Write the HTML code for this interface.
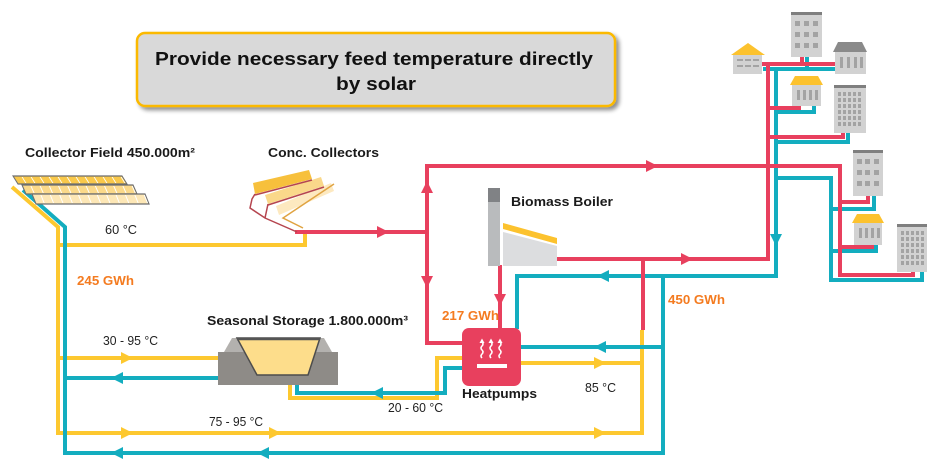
<!DOCTYPE html>
<html><head><meta charset="utf-8"><style>
html,body{margin:0;padding:0;background:#fff;}
svg{display:block;}
text{font-family:"Liberation Sans",Arial,sans-serif;}
.b{font-weight:bold;font-size:13px;fill:#1a1a1a;}
.n{font-size:13px;fill:#222;}
.o{font-weight:bold;font-size:13px;fill:#f47b20;}
.y{stroke:#fdc82f;stroke-width:4;fill:none;}
.t{stroke:#13adbf;stroke-width:4;fill:none;}
.r{stroke:#e8405e;stroke-width:4;fill:none;}
.win{fill:#a3a3a3;}
</style></head><body>
<svg width="943" height="471" viewBox="0 0 943 471" xmlns="http://www.w3.org/2000/svg">
<defs>
<filter id="sh" x="-5%" y="-10%" width="115%" height="130%"><feGaussianBlur in="SourceAlpha" stdDeviation="2"/><feOffset dx="3" dy="3"/><feComponentTransfer><feFuncA type="linear" slope="0.45"/></feComponentTransfer><feMerge><feMergeNode/><feMergeNode in="SourceGraphic"/></feMerge></filter>
</defs>

<!-- Title -->
<rect x="137" y="33" width="478" height="73" rx="8" fill="#d9d9d9" stroke="#fbb900" stroke-width="2.5" filter="url(#sh)"/>
<text x="155" y="65" font-size="18" font-weight="bold" fill="#111" textLength="438" lengthAdjust="spacingAndGlyphs">Provide necessary feed temperature directly</text>
<text x="376" y="90" font-size="18" font-weight="bold" fill="#111" text-anchor="middle" textLength="80" lengthAdjust="spacingAndGlyphs">by solar</text>

<!-- Yellow pipes -->
<path class="y" d="M12,187 L58,227 L58,433 L642,433 L642,330"/>
<path class="y" d="M58,245 L305,245 L305,230"/>
<path class="y" d="M58,358 L220,358"/>
<path class="y" d="M290,384 L290,398 L437,398 L437,358 L463,358"/>
<path class="y" d="M519,363 L642,363"/>

<!-- Teal pipes -->
<path class="t" d="M23,190 L65,227 L65,453 L663,453 L663,276"/>
<path class="t" d="M220,378 L65,378"/>
<path class="t" d="M463,368 L445,368 L445,393 L297,393 L297,384"/>
<path class="t" d="M663,347 L519,347"/>
<path class="t" d="M776,69 L776,276 L517,276 L517,329"/>
<path class="t" d="M763,69 L836,69"/>
<path class="t" d="M807,57 L807,69"/>
<path class="t" d="M776,112 L814,112 L814,105"/>
<path class="t" d="M776,142 L848,142 L848,132"/>
<path class="t" d="M776,178 L831,178 L831,280 L922,280 L922,271"/>
<path class="t" d="M831,209 L874,209 L874,195"/>
<path class="t" d="M831,251 L876,251 L876,244"/>

<!-- Red pipes -->
<path class="r" d="M295,232 L427,232"/>
<path class="r" d="M463,343 L427,343 L427,166 L840,166 L840,275 L913,275 L913,271"/>
<path class="r" d="M840,202 L868,202 L868,195"/>
<path class="r" d="M840,247 L872,247 L872,244"/>
<path class="r" d="M556,259 L768,259 L768,64"/>
<path class="r" d="M762,64 L836,64"/>
<path class="r" d="M802,57 L802,64"/>
<path class="r" d="M768,108 L799,108 L799,105"/>
<path class="r" d="M768,137 L843,137 L843,132"/>
<path class="r" d="M643,259 L643,330"/>
<path class="r" d="M500,265 L500,329"/>

<!-- Arrows -->
<g fill="#e8405e">
<polygon points="377,226 389,232 377,238"/>
<polygon points="421,193 427,181 433,193"/>
<polygon points="421,276 427,288 433,276"/>
<polygon points="646,160 658,166 646,172"/>
<polygon points="681,253 693,259 681,265"/>
<polygon points="494,294 500,306 506,294"/>
</g>
<g fill="#13adbf">
<polygon points="770,234 776,246 782,234"/>
<polygon points="609,270 597,276 609,282"/>
<polygon points="606,341 594,347 606,353"/>
<polygon points="123,372 111,378 123,384"/>
<polygon points="383,387 371,393 383,399"/>
<polygon points="123,447 111,453 123,459"/>
<polygon points="269,447 257,453 269,459"/>
</g>
<g fill="#fdc82f">
<polygon points="594,357 606,363 594,369"/>
<polygon points="121,352 133,358 121,364"/>
<polygon points="121,427 133,433 121,439"/>
<polygon points="269,427 281,433 269,439"/>
<polygon points="594,427 606,433 594,439"/>
</g>

<!-- Collector field -->
<g transform="translate(13,176) skewX(32)">
<rect x="0" y="0" width="109" height="8" fill="#f9c84a" stroke="#6d6e70" stroke-width="1.2"/>
<line x1="0" y1="4" x2="109" y2="4" stroke="#fff" stroke-width="6" stroke-dasharray="1 8" stroke-dashoffset="-8"/>
</g>
<g transform="translate(22,185) skewX(24)">
<rect x="0" y="0" width="111" height="9" fill="#fbd98a" stroke="#6d6e70" stroke-width="1.2"/>
<line x1="0" y1="4.5" x2="111" y2="4.5" stroke="#fff" stroke-width="7" stroke-dasharray="1 8.2" stroke-dashoffset="-8"/>
</g>
<g transform="translate(32,194) skewX(22)">
<rect x="0" y="0" width="113" height="10" fill="#fde7b6" stroke="#6d6e70" stroke-width="1.2"/>
<line x1="0" y1="5" x2="113" y2="5" stroke="#fff" stroke-width="8" stroke-dasharray="1 8.4" stroke-dashoffset="-8"/>
</g>

<!-- Concentrating collectors -->
<polygon points="253,183 309,170 312,179 255,194" fill="#f7c03c"/>
<polygon points="265,195 321,177 324,186 268,204" fill="#fad88a"/>
<polygon points="276,206 331,183 334,191 279,215" fill="#fde9c0"/>
<g stroke="#b5454f" stroke-width="1.5" fill="none">
<path d="M255,194 L252,199 L250,208 L265,218 L297,232"/>
<path d="M268,204 L265,218"/>
<path d="M255,195 L312,180"/>
<path d="M268,205 L324,187"/>
</g>
<g stroke="#e0a341" stroke-width="1.5" fill="none">
<path d="M334,184 L283,218 L303,228"/>
</g>

<!-- Storage -->
<polygon points="224,352 232,338 324,338 332,352" fill="#b3b1ae"/>
<rect x="218" y="352" width="120" height="33" fill="#8e8b87"/>
<polygon points="237,338 320,338 308,375 257,375" fill="#fddd8b" stroke="#4d4d4d" stroke-width="1.5"/>
<line x1="237" y1="339" x2="320" y2="339" stroke="#555" stroke-width="2.5"/>

<!-- Boiler -->
<rect x="488" y="188" width="12" height="78" fill="#b9bbbd"/>
<rect x="488" y="188" width="12" height="14" fill="#808285"/>
<polygon points="503,232 557,246 557,266 503,266" fill="#dcdddf"/>
<polygon points="503,223 557,238 557,244 503,229" fill="#fcc22e"/>

<!-- Heatpump -->
<rect x="462" y="328" width="59" height="58" rx="7" fill="#e8405e"/>
<g stroke="#fff" stroke-width="1.5" fill="none">
<path d="M482,358 q-2,-2 0,-4 q2,-2 0,-4 q-2,-2 0,-4 q2,-2 0,-4 L482,341"/>
<path d="M491,358 q-2,-2 0,-4 q2,-2 0,-4 q-2,-2 0,-4 q2,-2 0,-4 L491,341"/>
<path d="M500,358 q-2,-2 0,-4 q2,-2 0,-4 q-2,-2 0,-4 q2,-2 0,-4 L500,341"/>
</g>
<g fill="#fff">
<polygon points="479.5,343 482,338.5 484.5,343"/>
<polygon points="488.5,343 491,338.5 493.5,343"/>
<polygon points="497.5,343 500,338.5 502.5,343"/>
<rect x="477" y="364" width="30" height="4"/>
</g>

<!-- Buildings -->
<!-- house 1 -->
<polygon points="731,55 748,43 765,55" fill="#fcc22e"/>
<rect x="733" y="55" width="29" height="19" fill="#d2d2d2"/>
<g class="win"><rect x="737" y="59" width="6" height="2"/><rect x="745" y="59" width="6" height="2"/><rect x="753" y="59" width="6" height="2"/><rect x="737" y="65" width="6" height="2"/><rect x="745" y="65" width="6" height="2"/><rect x="753" y="65" width="6" height="2"/></g>
<!-- tall building 2 -->
<rect x="791" y="12" width="31" height="45" fill="#d2d2d2"/>
<rect x="791" y="12" width="31" height="3" fill="#7f7f7f"/>
<g class="win"><rect x="795" y="21" width="5" height="5"/><rect x="804" y="21" width="5" height="5"/><rect x="813" y="21" width="5" height="5"/><rect x="795" y="32" width="5" height="5"/><rect x="804" y="32" width="5" height="5"/><rect x="813" y="32" width="5" height="5"/><rect x="795" y="43" width="5" height="5"/><rect x="804" y="43" width="5" height="5"/><rect x="813" y="43" width="5" height="5"/></g>
<!-- gray roof house 3 -->
<polygon points="833,52 838,42 862,42 867,52" fill="#8a8a8a"/>
<rect x="835" y="52" width="31" height="22" fill="#d2d2d2"/>
<g class="win"><rect x="840" y="57" width="3" height="11"/><rect x="847" y="57" width="3" height="11"/><rect x="854" y="57" width="3" height="11"/><rect x="860" y="57" width="3" height="11"/></g>
<!-- house 4 -->
<polygon points="790,85 795,76 818,76 823,85" fill="#fcc22e"/>
<rect x="792" y="85" width="29" height="21" fill="#d2d2d2"/>
<g class="win"><rect x="797" y="90" width="3" height="10"/><rect x="803" y="90" width="3" height="10"/><rect x="809" y="90" width="3" height="10"/><rect x="815" y="90" width="3" height="10"/></g>
<!-- tall building 5 -->
<rect x="834" y="85" width="32" height="48" fill="#d2d2d2"/>
<rect x="834" y="85" width="32" height="3" fill="#7f7f7f"/>
<g class="win">
<rect x="838" y="92" width="3" height="4"/><rect x="843" y="92" width="3" height="4"/><rect x="848" y="92" width="3" height="4"/><rect x="853" y="92" width="3" height="4"/><rect x="858" y="92" width="3" height="4"/>
<rect x="838" y="98" width="3" height="4"/><rect x="843" y="98" width="3" height="4"/><rect x="848" y="98" width="3" height="4"/><rect x="853" y="98" width="3" height="4"/><rect x="858" y="98" width="3" height="4"/>
<rect x="838" y="104" width="3" height="4"/><rect x="843" y="104" width="3" height="4"/><rect x="848" y="104" width="3" height="4"/><rect x="853" y="104" width="3" height="4"/><rect x="858" y="104" width="3" height="4"/>
<rect x="838" y="110" width="3" height="4"/><rect x="843" y="110" width="3" height="4"/><rect x="848" y="110" width="3" height="4"/><rect x="853" y="110" width="3" height="4"/><rect x="858" y="110" width="3" height="4"/>
<rect x="838" y="116" width="3" height="4"/><rect x="843" y="116" width="3" height="4"/><rect x="848" y="116" width="3" height="4"/><rect x="853" y="116" width="3" height="4"/><rect x="858" y="116" width="3" height="4"/>
<rect x="838" y="122" width="3" height="4"/><rect x="843" y="122" width="3" height="4"/><rect x="848" y="122" width="3" height="4"/><rect x="853" y="122" width="3" height="4"/><rect x="858" y="122" width="3" height="4"/>
</g>
<!-- building 6 -->
<rect x="853" y="150" width="30" height="46" fill="#d2d2d2"/>
<rect x="853" y="150" width="30" height="3" fill="#7f7f7f"/>
<g class="win"><rect x="857" y="159" width="5" height="5"/><rect x="865" y="159" width="5" height="5"/><rect x="874" y="159" width="5" height="5"/><rect x="857" y="170" width="5" height="5"/><rect x="865" y="170" width="5" height="5"/><rect x="874" y="170" width="5" height="5"/><rect x="857" y="181" width="5" height="5"/><rect x="865" y="181" width="5" height="5"/><rect x="874" y="181" width="5" height="5"/></g>
<!-- house 7 -->
<polygon points="852,223 857,214 879,214 884,223" fill="#fcc22e"/>
<rect x="854" y="223" width="28" height="22" fill="#d2d2d2"/>
<g class="win"><rect x="859" y="228" width="3" height="10"/><rect x="865" y="228" width="3" height="10"/><rect x="871" y="228" width="3" height="10"/><rect x="877" y="228" width="3" height="10"/></g>
<!-- building 8 -->
<rect x="897" y="224" width="30" height="48" fill="#d2d2d2"/>
<rect x="897" y="224" width="30" height="3" fill="#7f7f7f"/>
<g class="win">
<rect x="901" y="231" width="3" height="4"/><rect x="906" y="231" width="3" height="4"/><rect x="911" y="231" width="3" height="4"/><rect x="916" y="231" width="3" height="4"/><rect x="921" y="231" width="3" height="4"/>
<rect x="901" y="237" width="3" height="4"/><rect x="906" y="237" width="3" height="4"/><rect x="911" y="237" width="3" height="4"/><rect x="916" y="237" width="3" height="4"/><rect x="921" y="237" width="3" height="4"/>
<rect x="901" y="243" width="3" height="4"/><rect x="906" y="243" width="3" height="4"/><rect x="911" y="243" width="3" height="4"/><rect x="916" y="243" width="3" height="4"/><rect x="921" y="243" width="3" height="4"/>
<rect x="901" y="249" width="3" height="4"/><rect x="906" y="249" width="3" height="4"/><rect x="911" y="249" width="3" height="4"/><rect x="916" y="249" width="3" height="4"/><rect x="921" y="249" width="3" height="4"/>
<rect x="901" y="255" width="3" height="4"/><rect x="906" y="255" width="3" height="4"/><rect x="911" y="255" width="3" height="4"/><rect x="916" y="255" width="3" height="4"/><rect x="921" y="255" width="3" height="4"/>
<rect x="901" y="261" width="3" height="4"/><rect x="906" y="261" width="3" height="4"/><rect x="911" y="261" width="3" height="4"/><rect x="916" y="261" width="3" height="4"/><rect x="921" y="261" width="3" height="4"/>
</g>

<!-- Labels -->
<text class="b" x="25" y="157" textLength="170" lengthAdjust="spacingAndGlyphs">Collector Field 450.000m²</text>
<text class="b" x="268" y="157" textLength="111" lengthAdjust="spacingAndGlyphs">Conc. Collectors</text>
<text class="b" x="511" y="206" textLength="102" lengthAdjust="spacingAndGlyphs">Biomass Boiler</text>
<text class="b" x="207" y="325" textLength="201" lengthAdjust="spacingAndGlyphs">Seasonal Storage 1.800.000m³</text>
<text class="b" x="462" y="398" textLength="75" lengthAdjust="spacingAndGlyphs">Heatpumps</text>
<text class="n" x="105" y="234" textLength="32" lengthAdjust="spacingAndGlyphs">60 °C</text>
<text class="n" x="103" y="345" textLength="55" lengthAdjust="spacingAndGlyphs">30 - 95 °C</text>
<text class="n" x="388" y="412" textLength="55" lengthAdjust="spacingAndGlyphs">20 - 60 °C</text>
<text class="n" x="209" y="426" textLength="54" lengthAdjust="spacingAndGlyphs">75 - 95 °C</text>
<text class="n" x="585" y="392" textLength="31" lengthAdjust="spacingAndGlyphs">85 °C</text>
<text class="o" x="77" y="285" textLength="57" lengthAdjust="spacingAndGlyphs">245 GWh</text>
<text class="o" x="442" y="320" textLength="57" lengthAdjust="spacingAndGlyphs">217 GWh</text>
<text class="o" x="668" y="304" textLength="57" lengthAdjust="spacingAndGlyphs">450 GWh</text>
</svg>
</body></html>
